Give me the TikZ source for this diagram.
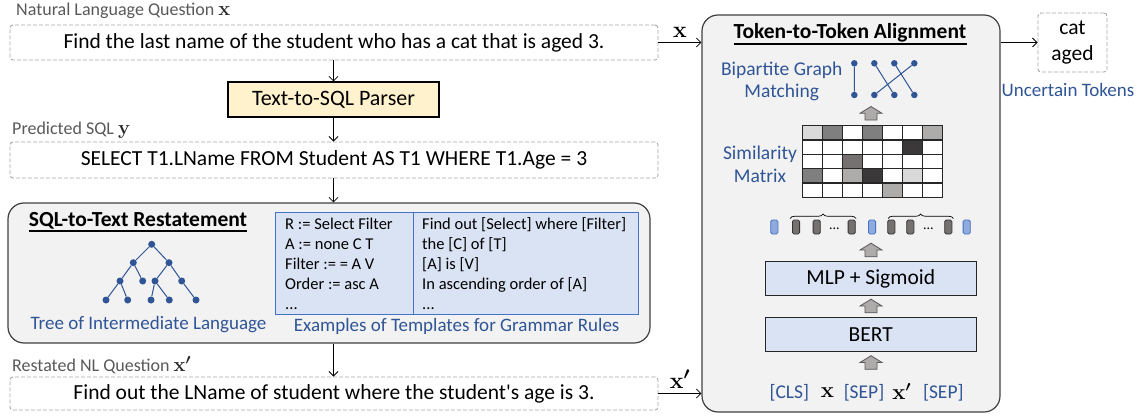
\documentclass[tikz,border=0pt]{standalone}
\usepackage[no-math]{fontspec}
\setmainfont{Carlito}
\newfontfamily\lmr{Latin Modern Roman}
\usetikzlibrary{arrows.meta,decorations.pathreplacing}
\definecolor{cblue}{HTML}{2F5597}
\definecolor{lblue}{HTML}{DAE3F3}
\definecolor{bblue}{HTML}{4472C4}
\definecolor{pgray}{HTML}{F2F2F2}
\definecolor{dgray}{HTML}{404040}
\definecolor{lgray}{HTML}{595959}
\definecolor{dashgray}{HTML}{A6A6A6}
\definecolor{pyellow}{HTML}{FFF2CC}
\definecolor{tokblue}{HTML}{8FAADC}
\definecolor{tokgray}{HTML}{767171}
\definecolor{agray}{HTML}{AFABAB}
\definecolor{mA}{HTML}{D9D9D9}
\definecolor{mB}{HTML}{7F7F7F}
\definecolor{mC}{HTML}{AEABAB}
\definecolor{mD}{HTML}{3A3838}
\definecolor{mE}{HTML}{767171}
\newcommand{\fsz}[2]{\fontsize{#1}{#2}\selectfont}
\newcommand{\bx}{{\lmr\bfseries x}}
\newcommand{\bxp}{{\lmr\bfseries x}{\boldmath$'$}}
\newcommand{\by}{{\lmr\bfseries y}}
\begin{document}
\begin{tikzpicture}[x=1pt,y=-1pt,
  dbox/.style={draw=dashgray, dash pattern=on 4pt off 2pt, rounded corners=3pt, line width=0.9pt, minimum width=648pt, inner sep=0pt, font=\fsz{21.5}{26}},
  arr/.style={-{Straight Barb[length=4.5pt,width=9pt]}, line width=0.8pt},
  lbl/.style={anchor=west, inner sep=0pt, text=lgray, font=\fsz{18}{22}},
  bcap/.style={inner sep=0pt, text=cblue, font=\fsz{19}{22.4}, align=center},
  panel/.style={draw=dgray, fill=pgray, line width=1.2pt, rounded corners=16pt, inner sep=0pt},
  ttl/.style={inner sep=0pt, font=\bfseries\fsz{21.5}{24}},
  tdot/.style={circle, fill=cblue, inner sep=0pt, minimum size=7pt},
  tline/.style={cblue, line width=1pt},
  tpl/.style={anchor=base west, inner sep=0pt, font=\fsz{16.5}{20}},
  lyr/.style={draw=black!85, fill=lblue, line width=1.2pt, minimum width=211pt, minimum height=34pt, inner sep=0pt, font=\fsz{21.5}{25}},
  uparr/.pic={\draw[fill=agray, draw=lgray, line width=0.8pt] (0,-6.8) -- (11,0) -- (6,0) -- (6,6.8) -- (-6,6.8) -- (-6,0) -- (-11,0) -- cycle;},
  tok/.style={rounded corners=1.5pt, line width=0.8pt},
  ulin/.style={line width=1.6pt}
]
\useasboundingbox (0,0) rectangle (1142,417);

% ---------------- left column ----------------
\node[lbl] (lnl) at (16,11) {Natural Language Question {\color{black!85}\fsz{20}{22}\bx}};
\node[dbox, minimum height=35pt] (nlq) at (334,42.5) {Find the last name of the student who has a cat that is aged 3.};

\node[draw=black, fill=pyellow, line width=1.2pt, minimum width=211pt, minimum height=35pt, inner sep=0pt, font=\fsz{22}{25}] (parser) at (333.5,99.5) {Text-to-SQL Parser};

\node[lbl] (lsql) at (12,130) {Predicted SQL {\color{black!85}\fsz{20}{22}\by}};
\node[dbox, minimum height=36pt] (sql) at (334,160) {SELECT T1.LName FROM Student AS T1 WHERE T1.Age = 3};

\node[panel, minimum width=642pt, minimum height=140pt] (s2t) at (329,273) {};
\node[ttl] (s2tt) at (138,221) {SQL-to-Text Restatement};
\draw[ulin] (s2tt.south west) ++(0,1.5) -- ([yshift=-1.5pt]s2tt.south east);

% tree
\node[tdot] (t0) at (151.7,244.3) {};
\node[tdot] (t1) at (133.3,262.7) {};
\node[tdot] (t2) at (169,262.7) {};
\node[tdot] (t3) at (120,281) {};
\node[tdot] (t4) at (142.7,281) {};
\node[tdot] (t5) at (155,281) {};
\node[tdot] (t6) at (181.7,281) {};
\node[tdot] (t7) at (106,300) {};
\node[tdot] (t8) at (127.7,300) {};
\node[tdot] (t9) at (151,300) {};
\node[tdot] (t10) at (169.3,300) {};
\node[tdot] (t11) at (196,300) {};
\draw[tline] (t0)--(t1) (t0)--(t2) (t1)--(t3) (t1)--(t4) (t2)--(t5) (t2)--(t6)
  (t3)--(t7) (t3)--(t8) (t5)--(t9) (t5)--(t10) (t6)--(t11);
\node[bcap] (treecap) at (148.5,325) {Tree of Intermediate Language};

% templates table
\node[draw=bblue, fill=lblue, line width=1pt, minimum width=362.6pt, minimum height=101.3pt, inner sep=0pt] (tbl) at (457,263.35) {};
\draw[bblue, line width=1pt] (413.3,212.7) -- (413.3,314);
\node[tpl] (r1) at (285,229) {R := Select Filter};
\node[tpl] (r2) at (285,249) {A := none C T};
\node[tpl] (r3) at (285,269) {Filter := = A V};
\node[tpl] (r4) at (285,289) {Order := asc A};
\node[tpl] (r5) at (285,309) {...};
\node[tpl] (s1) at (422,229) {Find out [Select] where [Filter]};
\node[tpl] (s2) at (422,249) {the [C] of [T]};
\node[tpl] (s3) at (422,269) {[A] is [V]};
\node[tpl] (s4) at (422,289) {In ascending order of [A]};
\node[tpl] (s5) at (422,309) {...};
\node[bcap] (tplcap) at (456.7,326.7) {Examples of Templates for Grammar Rules};

\node[lbl] (lrs) at (12,365) {Restated NL Question {\color{black!85}\fsz{20}{22}\bxp}};
\node[dbox, minimum height=33pt] (rst) at (334,393.5) {Find out the LName of student where the student\textquotesingle s age is 3.};

\draw[arr] (nlq.south -| parser.north) -- (parser.north);
\draw[arr] (parser.south) -- (parser.south |- sql.north);
\draw[arr] (sql.south -| parser.south) -- (parser.south |- s2t.north);
\draw[arr] (s2t.south -| parser.south) -- (parser.south |- rst.north);

% ---------------- right panel ----------------
\node[panel, minimum width=298pt, minimum height=397pt] (tta) at (851,213.5) {};
\node[ttl] (ttat) at (850,33) {Token-to-Token Alignment};
\draw[ulin] (ttat.south west) ++(0,1.5) -- ([yshift=-1.5pt]ttat.south east);

\draw[arr] (nlq.east) -- (nlq.east -| tta.west) node[midway, above=5pt, inner sep=0pt, font=\fsz{23}{24}] (xl) {\bx};
\draw[arr] (rst.east) -- (rst.east -| tta.west) node[midway, above=5pt, inner sep=0pt, font=\fsz{23}{24}] (xpl) {\bxp};

\node[draw=dashgray, dash pattern=on 4pt off 2pt, rounded corners=3pt, line width=0.9pt, minimum width=69pt, minimum height=59pt, inner sep=0pt, align=center, font=\fsz{21.5}{26}] (cat) at (1072.5,42.5) {cat\\aged};
\draw[arr] (cat.west -| tta.east) -- (cat.west);
\node[bcap] (unc) at (1068,90) {Uncertain Tokens};

% bipartite graph
\node[bcap, font=\fsz{19.5}{22}] (bgm) at (781.7,81.7) {Bipartite Graph\\Matching};
\foreach \i/\x in {1/854.3,2/874.3,3/894.3,4/914.3}{
  \node[tdot, minimum size=6.5pt] (u\i) at (\x,63.3) {};
  \node[tdot, minimum size=6.5pt] (v\i) at (\x,95) {};
}
\draw[tline] (u1)--(v1) (u2)--(v3) (u3)--(v4) (u4)--(v2);

\pic at (871,113.3) {uparr};

% similarity matrix
\node[bcap, font=\fsz{19.5}{22.4}] (simcap) at (760,164.5) {Similarity\\Matrix};
\fill[white] (802.3,125.7) rectangle (942.7,197.3);
\foreach \c/\r/\col in {0/0/mA,1/0/mB,3/0/mB,6/0/mC,5/1/mD,2/2/mE,0/3/mB,2/3/mC,3/3/mD,5/3/mA,4/4/mC}{
  \fill[\col] (802.3+\c*20.057,125.7+\r*14.32) rectangle ++(20.057,14.32);
}
\foreach \c in {0,...,7}{ \draw[black!85, line width=1.1pt] (802.3+\c*20.057,125.7) -- (802.3+\c*20.057,197.3); }
\foreach \r in {0,...,5}{ \draw[black!85, line width=1.1pt] (802.3,125.7+\r*14.32) -- (942.7,125.7+\r*14.32); }

% braces and tokens
\draw[decorate, decoration={brace, amplitude=4.5pt}, line width=0.7pt] (790,218.5) -- (856,218.5);
\draw[decorate, decoration={brace, amplitude=4.5pt}, line width=0.7pt] (888,218.5) -- (953.3,218.5);
\foreach \x in {774.3,872,966.7}{
  \draw[tok, draw=bblue, fill=tokblue] (\x-3.6,220) rectangle (\x+3.6,234);
}
\foreach \x in {796,816.7,851.7,891.3,910.3,948.3}{
  \draw[tok, draw=black!80, fill=tokgray] (\x-3.6,220) rectangle (\x+3.6,234);
}
\node[inner sep=0pt, font=\fsz{14}{16}] (dd1) at (834.3,229) {...};
\node[inner sep=0pt, font=\fsz{14}{16}] (dd2) at (928.3,229) {...};

\pic at (871,250) {uparr};
\node[lyr] (mlp) at (870.8,278.8) {MLP + Sigmoid};
\pic at (871,306) {uparr};
\node[lyr] (bert) at (870.8,334.7) {BERT};
\pic at (871,362.5) {uparr};

\node[inner sep=0pt, text=cblue, font=\fsz{19.5}{22}] (cls) at (789.3,392.7) {[CLS]};
\node[inner sep=0pt, font=\fsz{22}{22}] (xin) at (827.3,392.7) {\bx};
\node[inner sep=0pt, text=cblue, font=\fsz{19.5}{22}] (sep1) at (864,392.7) {[SEP]};
\node[inner sep=0pt, font=\fsz{22}{22}] (xpin) at (901.7,391.5) {\bxp};
\node[inner sep=0pt, text=cblue, font=\fsz{19.5}{22}] (sep2) at (943.3,392.7) {[SEP]};
\end{tikzpicture}
\end{document}
